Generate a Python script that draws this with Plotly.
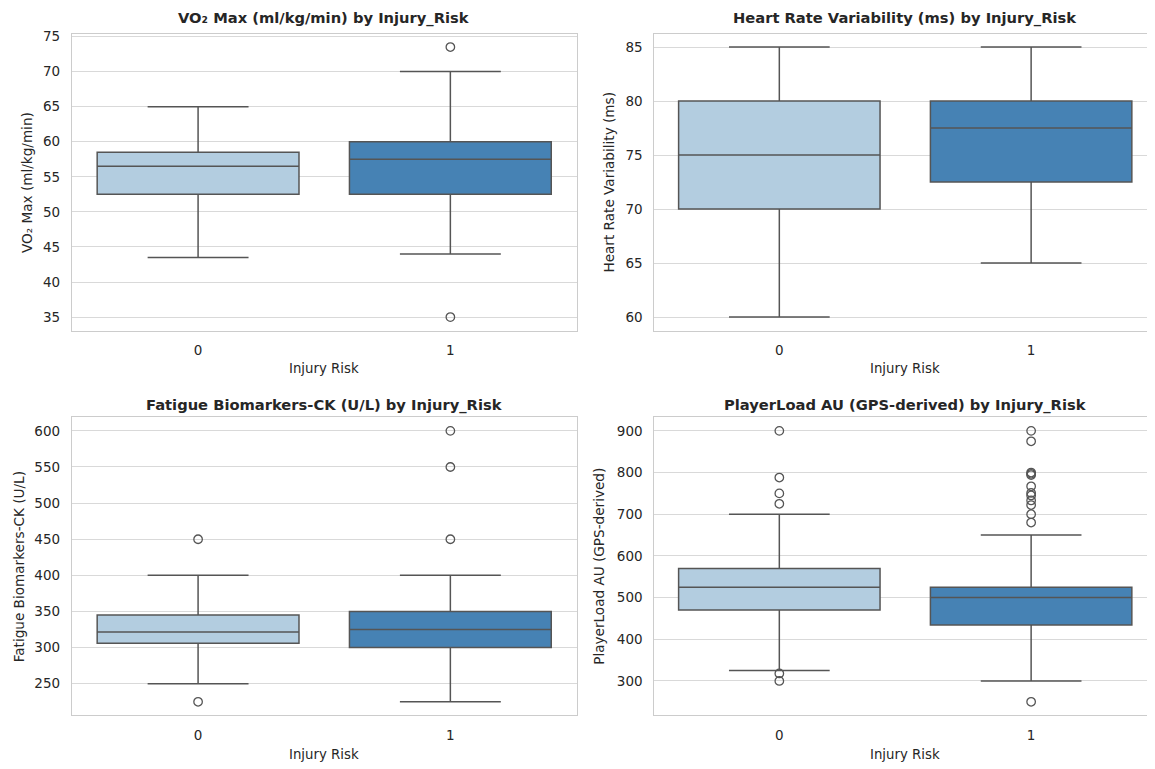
import plotly.graph_objects as go

# ---------------- data ----------------
groups = [0, 1]
group_labels = ["0", "1"]

titles = [
    "VO₂ Max (ml/kg/min) by Injury_Risk",
    "Heart Rate Variability (ms) by Injury_Risk",
    "Fatigue Biomarkers-CK (U/L) by Injury_Risk",
    "PlayerLoad AU (GPS-derived) by Injury_Risk",
]
ylabels = [
    "VO₂ Max (ml/kg/min)",
    "Heart Rate Variability (ms)",
    "Fatigue Biomarkers-CK (U/L)",
    "PlayerLoad AU (GPS-derived)",
]
xlabel = "Injury Risk"

# box statistics per panel: [group0, group1]
vo2_q1 = [52.5, 52.5]
vo2_med = [56.5, 57.5]
vo2_q3 = [58.5, 60.0]
vo2_lo = [43.5, 44.0]
vo2_hi = [65.0, 70.0]
vo2_out = [[], [73.5, 35.0]]

hrv_q1 = [70.0, 72.5]
hrv_med = [75.0, 77.5]
hrv_q3 = [80.0, 80.0]
hrv_lo = [60.0, 65.0]
hrv_hi = [85.0, 85.0]
hrv_out = [[], []]

ck_q1 = [306.0, 300.0]
ck_med = [321.5, 325.0]
ck_q3 = [345.0, 350.0]
ck_lo = [250.0, 225.0]
ck_hi = [400.0, 400.0]
ck_out = [[450.0, 225.0], [450.0, 550.0, 600.0]]

pl_q1 = [470.0, 434.0]
pl_med = [525.0, 500.0]
pl_q3 = [570.0, 525.0]
pl_lo = [325.0, 300.0]
pl_hi = [700.0, 650.0]
pl_out = [[900.0, 788.0, 750.0, 725.0, 318.0, 300.0],
          [900.0, 875.0, 800.0, 797.0, 794.0, 767.0, 751.0, 745.0,
           733.0, 722.0, 700.0, 680.0, 250.0]]

y_ranges = [[33.075, 75.425], [58.75, 86.25], [206.25, 618.75], [217.5, 932.5]]
y_ticks = [[35, 40, 45, 50, 55, 60, 65, 70, 75],
           [60, 65, 70, 75, 80, 85],
           [250, 300, 350, 400, 450, 500, 550, 600],
           [300, 400, 500, 600, 700, 800, 900]]

panels = [
    (vo2_q1, vo2_med, vo2_q3, vo2_lo, vo2_hi, vo2_out),
    (hrv_q1, hrv_med, hrv_q3, hrv_lo, hrv_hi, hrv_out),
    (ck_q1, ck_med, ck_q3, ck_lo, ck_hi, ck_out),
    (pl_q1, pl_med, pl_q3, pl_lo, pl_hi, pl_out),
]

# ---------------- style / layout ----------------
OFFX, OFFY = 8, 12           # where the html page places the figure
W, H = 1155 - OFFX, 769 - OFFY
fill_colors = ["#b3cde0", "#4682b4"]
line_col = "#555555"
grid_col = "#d9d9d9"
spine_col = "#cccccc"
text_col = "#262626"
FONT = "DejaVu Sans"

# reference pixel positions (page coordinates)
col_px = [(72, 577), (655, 1155)]
x_ranges = [[-0.5, 1.5], [-0.496, 1.488]]
row_px = [(32.7, 331.7), (419, 719)]
title_y_px = [17, 407]
xtitle_y_px = [370, 758]
ytitle_x_px = [[27, 610], [19, 600]]
title_cx = [324.5, 906]


def fx(p):
    return (p - OFFX) / W


def fy(p):
    return 1 - (p - OFFY) / H


fig = go.Figure()

for i, (q1, med, q3, lo, hi, outs) in enumerate(panels):
    r, c = divmod(i, 2)
    ax = "" if i == 0 else str(i + 1)
    xref, yref = "x" + ax, "y" + ax
    for g in range(2):
        fig.add_trace(go.Box(
            x=[groups[g]], q1=[q1[g]], median=[med[g]], q3=[q3[g]],
            lowerfence=[lo[g]], upperfence=[hi[g]],
            width=0.8, whiskerwidth=0.5,
            fillcolor=fill_colors[g],
            line=dict(color=line_col, width=1.5),
            boxpoints=False, showlegend=False,
            xaxis=xref, yaxis=yref,
        ))
        if outs[g]:
            fig.add_trace(go.Scatter(
                x=[groups[g]] * len(outs[g]), y=outs[g], mode="markers",
                marker=dict(symbol="circle", size=8.5, color="rgba(255,255,255,0)",
                            line=dict(color=line_col, width=1.3)),
                showlegend=False, xaxis=xref, yaxis=yref,
            ))
    x0, x1 = col_px[c]
    y0, y1 = row_px[r]
    fig.layout["xaxis" + ax] = dict(
        domain=[fx(x0), min(fx(x1), 1.0)], anchor=yref, range=x_ranges[c],
        tickvals=groups, ticktext=group_labels, showgrid=False, zeroline=False,
        showline=True, mirror=True, linecolor=spine_col, linewidth=1.25,
        ticks="", ticklabelstandoff=7,
        tickfont=dict(family=FONT, size=13.5, color=text_col),
    )
    fig.layout["yaxis" + ax] = dict(
        domain=[fy(y1), fy(y0)], anchor=xref, range=y_ranges[i],
        tickvals=y_ticks[i], showgrid=True, gridcolor=grid_col, gridwidth=1.25,
        zeroline=False, showline=True, mirror=True, linecolor=spine_col,
        linewidth=1.25, ticks="", ticklabelstandoff=8,
        tickfont=dict(family=FONT, size=13.5, color=text_col),
    )
    fig.add_annotation(
        text="<b>" + titles[i] + "</b>", xref="paper", yref="paper",
        x=fx(title_cx[c]), y=fy(title_y_px[r]), xanchor="center",
        yanchor="middle", showarrow=False,
        font=dict(family=FONT, size=14.7, color=text_col),
    )
    fig.add_annotation(
        text=xlabel, xref="paper", yref="paper",
        x=fx(title_cx[c]), y=fy(xtitle_y_px[r]), xanchor="center",
        yanchor="middle", showarrow=False,
        font=dict(family=FONT, size=13.3, color=text_col),
    )
    fig.add_annotation(
        text=ylabels[i], xref="paper", yref="paper",
        x=fx(ytitle_x_px[r][c]), y=fy((y0 + y1) / 2), xanchor="center",
        yanchor="middle", textangle=-90, showarrow=False,
        font=dict(family=FONT, size=13.6, color=text_col),
    )

fig.update_layout(
    width=W, height=H, margin=dict(l=0, r=0, t=0, b=0),
    paper_bgcolor="white", plot_bgcolor="white",
    font=dict(family=FONT, color=text_col),
    showlegend=False,
)

fig.write_html("out.html")
